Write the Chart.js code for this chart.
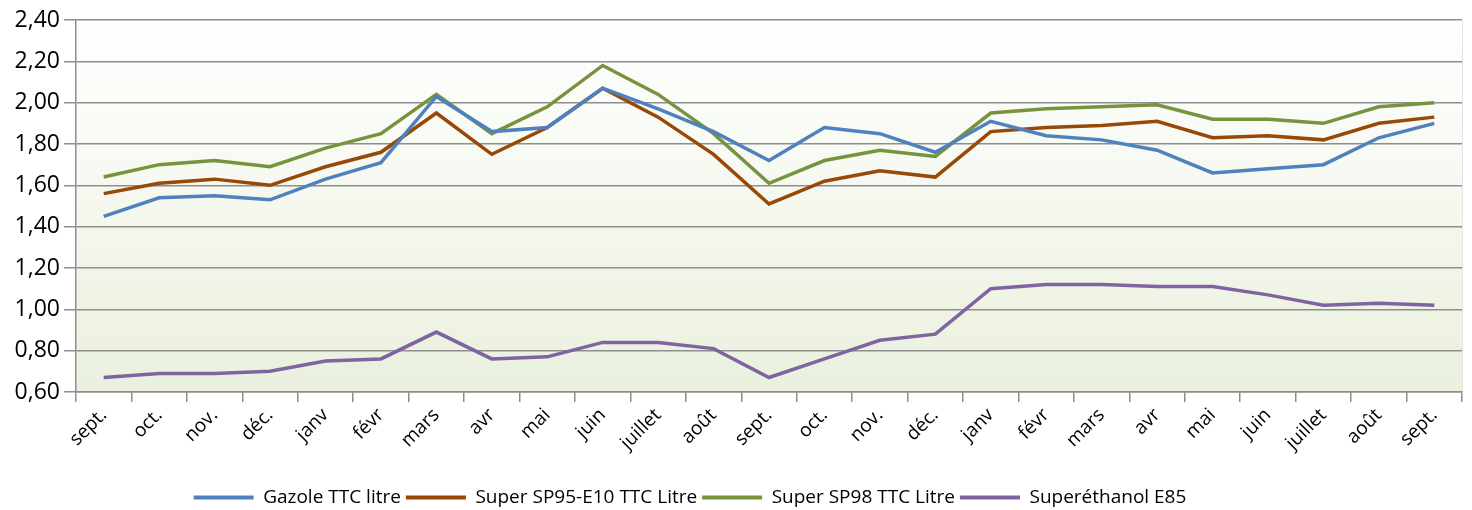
<!DOCTYPE html>
<html><head><meta charset="utf-8">
<script src="https://cdn.jsdelivr.net/npm/chart.js@4/dist/chart.umd.min.js"></script>
<style>html,body{margin:0;padding:0;background:#fff}#wrap{width:1472px;height:510px}</style>
</head><body><div id="wrap"><canvas id="c" width="1472" height="510"></canvas></div>
<script>
const categories = ['sept.','oct.','nov.','déc.','janv','févr','mars','avr','mai','juin','juillet','août','sept.','oct.','nov.','déc.','janv','févr','mars','avr','mai','juin','juillet','août','sept.'];
const gazole = [1.45,1.54,1.55,1.53,1.63,1.71,2.03,1.86,1.88,2.07,1.97,1.86,1.72,1.88,1.85,1.76,1.91,1.84,1.82,1.77,1.66,1.68,1.70,1.83,1.90];
const sp95e10 = [1.56,1.61,1.63,1.60,1.69,1.76,1.95,1.75,1.88,2.07,1.93,1.75,1.51,1.62,1.67,1.64,1.86,1.88,1.89,1.91,1.83,1.84,1.82,1.90,1.93];
const sp98 = [1.64,1.70,1.72,1.69,1.78,1.85,2.04,1.85,1.98,2.18,2.04,1.85,1.61,1.72,1.77,1.74,1.95,1.97,1.98,1.99,1.92,1.92,1.90,1.98,2.00];
const e85 = [0.67,0.69,0.69,0.70,0.75,0.76,0.89,0.76,0.77,0.84,0.84,0.81,0.67,0.76,0.85,0.88,1.10,1.12,1.12,1.11,1.11,1.07,1.02,1.03,1.02];
const seriesNames = ['Gazole TTC litre','Super SP95-E10 TTC Litre','Super SP98 TTC Litre','Superéthanol E85'];
const yTicks = {min:0.6, max:2.4, step:0.2};

const FONT = "'Open Sans', 'DejaVu Sans', sans-serif";
const colors = ['#4F81BD','#984807','#77933C','#8064A2'];
const gridCol = '#8e8e8e';

const bgPlugin = {
  id:'bg',
  afterLayout(chart){
    if (chart.legend) { chart.legend.left -= 41; chart.legend.right -= 41; }
  },
  beforeDraw(chart){
    const {ctx, chartArea:a} = chart;
    const g = ctx.createLinearGradient(0,a.top,0,a.bottom);
    g.addColorStop(0,'#ffffff');
    g.addColorStop(1,'#EAF0DE');
    ctx.save();
    ctx.fillStyle = g;
    ctx.fillRect(a.left,a.top,a.right-a.left,a.bottom-a.top);
    ctx.strokeStyle = '#e4e4e4';
    ctx.lineWidth = 1;
    ctx.beginPath(); ctx.moveTo(a.right+0.5,a.top); ctx.lineTo(a.right+0.5,a.bottom); ctx.stroke();
    ctx.restore();
  }
};

const mk = (label, data, i) => ({
  label, data, borderColor: colors[i], backgroundColor: colors[i],
  borderWidth: 3.5, pointRadius: 0, tension: 0, fill: false
});

new Chart(document.getElementById('c'), {
  type:'line',
  data:{
    labels: categories,
    datasets:[mk(seriesNames[0],gazole,0), mk(seriesNames[1],sp95e10,1), mk(seriesNames[2],sp98,2), mk(seriesNames[3],e85,3)]
  },
  plugins:[bgPlugin],
  options:{
    responsive:false, animation:false,
    layout:{padding:{left:0,right:10,top:20,bottom:-7}},
    plugins:{
      tooltip:{enabled:false},
      legend:{
        position:'bottom',
        labels:{
          font:{family:FONT,size:19}, color:'#000',
          boxWidth:60, boxHeight:4, padding:5,
          generateLabels(chart){
            const items = Chart.defaults.plugins.legend.labels.generateLabels(chart);
            items.forEach(it=>{ it.lineWidth = 0; });
            return items;
          }
        }
      }
    },
    scales:{
      x:{
        offset:true,
        grid:{offset:true, drawOnChartArea:false, drawTicks:true, tickLength:10, color:gridCol, lineWidth:1.5},
        border:{display:true, color:gridCol, width:1.5},
        ticks:{autoSkip:false, maxRotation:45, minRotation:45, font:{family:FONT,size:19}, color:'#000', padding:2},
        afterFit(s){ s.height = 91; }
      },
      y:{
        min:yTicks.min, max:yTicks.max,
        grid:{color:gridCol, lineWidth:1.5, tickLength:12, drawTicks:true},
        border:{display:true, color:gridCol, width:1.5},
        ticks:{stepSize:yTicks.step, font:{family:FONT,size:23}, color:'#000', padding:4,
          callback:v=>Number(v).toFixed(2).replace('.',',')},
        afterFit(s){ s.width = 76; }
      }
    }
  }
});
</script>
</body></html>
